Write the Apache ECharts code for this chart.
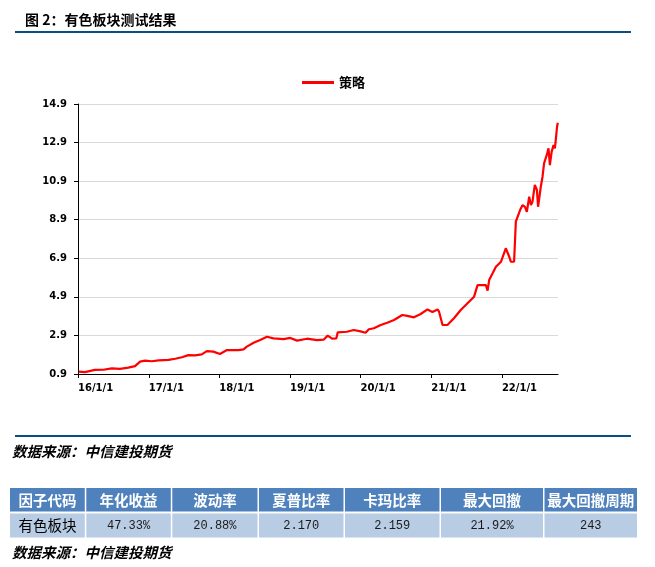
<!DOCTYPE html>
<html><head><meta charset="utf-8">
<script src="https://cdn.jsdelivr.net/npm/echarts@6/dist/echarts.min.js"></script>
<style>html,body{margin:0;padding:0;background:#fff}#c{width:655px;height:567px}</style>
</head><body><div id="c"></div>
<script>
// ---- data ----
const dates = [
'2016-01-04','2016-02-06','2016-03-28','2016-05-11','2016-06-24','2016-08-05','2016-09-17','2016-10-22','2016-11-17','2016-12-13',
'2017-01-17','2017-02-21','2017-04-13','2017-05-18','2017-06-21','2017-07-25','2017-08-28','2017-10-02','2017-10-28','2017-12-01',
'2018-01-04','2018-02-09','2018-04-10','2018-05-06','2018-05-23','2018-06-27','2018-07-31','2018-09-04','2018-10-08','2018-11-29',
'2019-01-03','2019-02-07','2019-03-30','2019-05-21','2019-06-24','2019-07-15','2019-08-07','2019-08-29','2019-09-05','2019-10-23',
'2019-11-27','2020-01-01','2020-01-27','2020-02-13','2020-03-10','2020-04-14','2020-05-18','2020-06-22','2020-08-04','2020-08-30',
'2020-10-03','2020-11-07','2020-12-12','2021-01-07','2021-02-02','2021-02-10','2021-02-28','2021-03-25','2021-04-28','2021-06-02',
'2021-07-07','2021-08-10','2021-08-28','2021-10-10','2021-10-19','2021-10-27','2021-11-14','2021-12-01','2021-12-27','2022-01-21',
'2022-02-08','2022-02-16','2022-03-05','2022-03-14','2022-03-23','2022-04-05','2022-04-18','2022-04-30','2022-05-10','2022-05-22',
'2022-05-31','2022-06-08','2022-06-20','2022-07-01','2022-07-07','2022-07-16','2022-07-21','2022-07-30','2022-08-07','2022-08-21',
'2022-08-30','2022-09-06','2022-09-15','2022-09-25','2022-10-02','2022-10-08','2022-10-13','2022-10-17'
];
const strategyValues = [
1.02,1.00,1.11,1.12,1.19,1.17,1.23,1.31,1.54,1.59,
1.56,1.61,1.63,1.69,1.77,1.88,1.87,1.92,2.09,2.06,
1.94,2.14,2.14,2.18,2.32,2.52,2.66,2.83,2.75,2.71,
2.77,2.63,2.73,2.66,2.68,2.89,2.73,2.75,3.06,3.09,
3.18,3.11,3.04,3.22,3.27,3.44,3.56,3.70,3.96,3.91,
3.84,4.01,4.25,4.12,4.25,4.13,3.44,3.44,3.79,4.22,
4.57,4.91,5.51,5.51,5.22,5.77,6.12,6.46,6.72,7.42,
6.98,6.72,6.72,8.80,8.71,9.40,9.66,9.57,9.31,10.09,
9.66,9.83,10.70,10.44,9.57,9.49,10.61,11.13,11.82,12.26,
12.60,11.73,12.42,12.77,12.60,13.20,13.72,13.93
];
const seriesName = '策略';
const xTickDates = ['2016-01-01','2017-01-01','2018-01-01','2019-01-01','2020-01-01','2021-01-01','2022-01-01'];
const xRange = ['2016-01-01','2022-10-18'];
const yMin = 0.9, yMax = 14.9, yStep = 2;
const titleText = '图 2：有色板块测试结果';
const sourceText = '数据来源：中信建投期货';
const tableHeader = ['因子代码','年化收益','波动率','夏普比率','卡玛比率','最大回撤','最大回撤周期'];
const tableRow = ['有色板块','47.33%','20.88%','2.170','2.159','21.92%','243'];

// ---- layout ----
const colEdges = [10, 86.3, 172.3, 259, 345, 441, 544.5, 637];
const headTop = 488, headBot = 511.6, rowTop = 513.4, rowBot = 537.6;

function ts(s) { const p = s.split('-').map(Number); return Date.UTC(p[0], p[1] - 1, p[2]); }
function fmt(v) { const d = new Date(v); return (d.getUTCFullYear() % 100) + '/' + (d.getUTCMonth() + 1) + '/' + d.getUTCDate(); }

const chart = echarts.init(document.getElementById('c'), null, {renderer: 'canvas'});
const tickTs = xTickDates.map(ts);
const g = [];
function txt(x, y, text, font, fill, align) {
  g.push({type: 'text', x: x, y: y, silent: true, style: {
    text: text, font: font, fill: fill,
    align: align || 'left', textAlign: align || 'left',
    verticalAlign: 'middle', textVerticalAlign: 'middle'}});
}
function rect(x, y, w, h, fill) {
  g.push({type: 'rect', silent: true, shape: {x: x, y: y, width: w, height: h}, style: {fill: fill}});
}
txt(25, 19.5, titleText, 'bold 14px "Noto Sans CJK SC"', '#000');
rect(15, 31, 616, 2, '#0a4f83');
rect(15, 435, 616, 2, '#0a4f83');
txt(12, 451.5, sourceText, 'italic bold 14.5px "Noto Sans CJK SC"', '#000');
txt(12, 552, sourceText, 'italic bold 14.5px "Noto Sans CJK SC"', '#000');
for (let i = 0; i < tableHeader.length; i++) {
  const x0 = colEdges[i], x1 = colEdges[i + 1] - (i < tableHeader.length - 1 ? 1.5 : 0);
  rect(x0, headTop, x1 - x0, headBot - headTop, '#4f81bd');
  rect(x0, rowTop, x1 - x0, rowBot - rowTop, '#b8cce4');
  const cx = (x0 + x1) / 2;
  txt(cx, (headTop + headBot) / 2 + 0.5, tableHeader[i], 'bold 14.5px "Noto Sans CJK SC"', '#fff', 'center');
  if (i === 0) txt(cx, (rowTop + rowBot) / 2, tableRow[i], '14.5px "Noto Sans CJK SC"', '#000', 'center');
  else txt(cx, (rowTop + rowBot) / 2 + 0.5, tableRow[i], '12px "Liberation Mono"', '#1a1a1a', 'center');
}

chart.setOption({
  backgroundColor: '#fff',
  animation: false,
  grid: {left: 78, right: 97, top: 104, bottom: 193, containLabel: false},
  legend: {
    data: [seriesName], left: 297, top: 71, padding: 5, icon: 'rect', itemWidth: 32, itemHeight: 3, itemGap: 5,
    textStyle: {fontFamily: 'Noto Sans CJK SC', fontWeight: 'bold', fontSize: 13, color: '#000'}
  },
  xAxis: {
    type: 'value',
    min: ts(xRange[0]),
    max: ts(xRange[1]),
    axisLine: {show: true, lineStyle: {color: '#000', width: 1}},
    axisTick: {show: true, length: 4, lineStyle: {color: '#000'}, customValues: tickTs},
    axisLabel: {
      customValues: tickTs, align: 'left', margin: 9, color: '#000',
      fontFamily: 'DejaVu Sans', fontWeight: 'bold', fontSize: 10,
      formatter: fmt
    },
    splitLine: {show: false}, minorTick: {show: false}
  },
  yAxis: {
    type: 'value', min: yMin, max: yMax, interval: yStep,
    axisLine: {show: true, lineStyle: {color: '#000', width: 1}},
    axisTick: {show: true, length: 4, lineStyle: {color: '#000'}},
    axisLabel: {margin: 11, color: '#000', fontFamily: 'DejaVu Sans', fontWeight: 'bold', fontSize: 10,
      formatter: function (v) { return (Math.round(v * 10) / 10).toFixed(1); }},
    splitLine: {show: true, lineStyle: {color: '#d9d9d9', width: 1}}
  },
  series: [{
    name: seriesName, type: 'line', symbol: 'none', showSymbol: false,
    data: dates.map((d, i) => [ts(d), strategyValues[i]]),
    lineStyle: {color: '#ff0000', width: 2.2}, itemStyle: {color: '#ff0000'}
  }],
  graphic: g
});
</script></body></html>
